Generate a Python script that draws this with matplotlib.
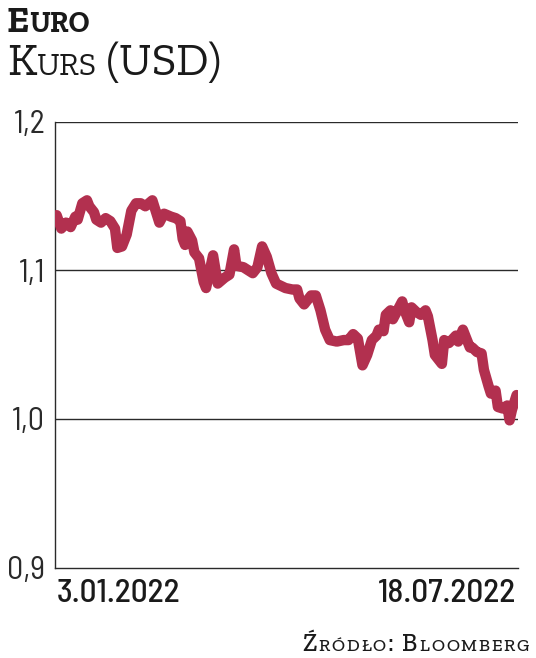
import matplotlib
matplotlib.use('Agg')
import matplotlib.pyplot as plt

# EUR/USD, days counted from 3.01.2022
days = [0, 2, 4, 6, 8, 9, 11, 13, 14, 16, 17, 19, 21, 23, 25, 26, 28, 30, 32, 34,
        36, 38, 41, 43, 44, 46, 49, 51, 53, 54, 55, 56, 58, 59, 61, 63, 64, 67, 69, 72,
        74, 76, 77, 80, 84, 86, 88, 90, 92, 94, 98, 101, 103, 104, 106, 109, 111, 113, 115, 117,
        120, 123, 125, 127, 129, 131, 133, 135, 137, 138, 140, 141, 143, 144, 146, 148, 149, 151, 152, 154,
        156, 158, 159, 161, 162, 163, 165, 166, 168, 171, 172, 174, 176, 177, 178, 180, 182, 183, 185, 186,
        188, 189, 191, 193, 194, 195, 197]
rate = [1.137, 1.128, 1.132, 1.129, 1.136, 1.134, 1.145, 1.147, 1.143, 1.139, 1.134, 1.132, 1.135, 1.133, 1.128, 1.115, 1.116, 1.124, 1.140, 1.145,
        1.145, 1.143, 1.147, 1.137, 1.132, 1.138, 1.136, 1.135, 1.133, 1.121, 1.117, 1.126, 1.120, 1.112, 1.108, 1.092, 1.088, 1.110, 1.091, 1.095,
        1.097, 1.114, 1.103, 1.102, 1.098, 1.102, 1.116, 1.109, 1.098, 1.091, 1.088, 1.087, 1.087, 1.081, 1.077, 1.083, 1.083, 1.073, 1.060, 1.053,
        1.052, 1.053, 1.053, 1.057, 1.054, 1.036, 1.043, 1.053, 1.056, 1.060, 1.059, 1.070, 1.073, 1.067, 1.073, 1.079, 1.073, 1.065, 1.075, 1.072,
        1.070, 1.073, 1.069, 1.053, 1.043, 1.041, 1.037, 1.053, 1.051, 1.056, 1.052, 1.060, 1.052, 1.048, 1.048, 1.045, 1.044, 1.033, 1.022, 1.017,
        1.019, 1.008, 1.007, 1.009, 0.999, 1.006, 1.016]

y_ticks = [0.9, 1.0, 1.1, 1.2]
y_labels = ['0,9', '1,0', '1,1', '1,2']
x_ticks = [0, 197]
x_labels = ['3.01.2022', '18.07.2022']

LINE_COLOR = '#b2304f'
NUM_FONT = ['Barlow Semi Condensed', 'DejaVu Sans']
SERIF = ['Zilla Slab', 'DejaVu Serif']

fig = plt.figure(figsize=(5.36, 6.58), dpi=100)
ax = fig.add_axes([0.1026, 0.1375, 0.8638, 0.6778])

ax.plot(days, rate, color=LINE_COLOR, lw=7.5, solid_capstyle='round', solid_joinstyle='round', zorder=3)

ax.set_xlim(-0.7, 197.6)
ax.set_ylim(0.9, 1.2)
for v in y_ticks[1:]:
    ax.axhline(v, color='#2a2a2a', lw=1.0, zorder=1)

for s in ['top', 'right']:
    ax.spines[s].set_visible(False)
for s in ['left', 'bottom']:
    ax.spines[s].set_color('#2a2a2a')
    ax.spines[s].set_linewidth(1.0)

ax.set_yticks(y_ticks)
ax.set_yticklabels(y_labels, family=NUM_FONT, fontsize=23, color='#2a2a2a')
ax.tick_params(axis='y', length=0, pad=7)

ax.set_xticks(x_ticks)
ax.set_xticklabels(x_labels, family=NUM_FONT, fontsize=24, color='#1a1a1a', weight='medium')
ax.tick_params(axis='x', length=0, pad=8)
xl = ax.get_xticklabels()
xl[0].set_ha('left')
xl[1].set_ha('right')

renderer = fig.canvas.get_renderer()
W, H = fig.bbox.width, fig.bbox.height


def small_caps(parts, x, y, align='left', tracking=0, **kw):
    # parts: list of (text, size); x, y in pixels from top-left, y is the baseline
    pieces = []
    for txt, size in parts:
        if tracking:
            pieces += [(ch, size) for ch in txt]
        else:
            pieces.append((txt, size))
    texts = [fig.text(0, 0, txt, fontsize=size, va='baseline', ha='left', **kw) for txt, size in pieces]
    widths = [t.get_window_extent(renderer).width + tracking for t in texts]
    start = x if align == 'left' else x - sum(widths) + tracking
    for t, w in zip(texts, widths):
        t.set_position((start / W, 1 - y / H))
        start += w


small_caps([('E', 27), ('URO', 21)], 7, 32, family=SERIF, weight='bold', color='#1a1a1a')
small_caps([('K', 33), ('URS', 23), (' (USD)', 33)], 7, 75, family=SERIF, color='#1a1a1a')
small_caps([('Ź', 18), ('RÓDŁO', 13), (': B', 18), ('LOOMBERG', 13)], 529, 651,
           align='right', tracking=1.8, family=SERIF, weight='medium', color='#1a1a1a')

fig.savefig('out.png', dpi=100)
